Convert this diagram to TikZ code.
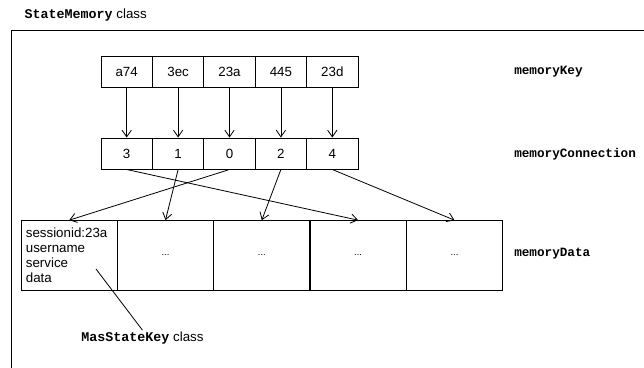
\documentclass[tikz,border=0pt]{standalone}
\usepackage{fontspec}
\setmainfont{Liberation Sans}
\setmonofont{Liberation Mono}
\usetikzlibrary{arrows.meta}

\tikzset{
	keycell/.style={draw, line width=0.7pt, minimum width=38.6pt, minimum height=23.3pt, inner sep=0pt},
	datacell/.style={draw, line width=0.7pt, minimum width=72.2pt, minimum height=52pt, inner sep=0pt},
	fieldname/.style={anchor=west, inner sep=0pt, font=\fontsize{9.5}{11}\selectfont\ttfamily\bfseries},
	link/.style={line width=0.6pt, -{Straight Barb[length=5pt, width=7pt]}}
}

\begin{document}
\begin{tikzpicture}[x=0.75pt, y=-0.75pt, font=\fontsize{10}{11.2}\selectfont]

		\useasboundingbox (0, 0) rectangle (644, 368);

		\draw (20, 15) node[anchor=west] {\texttt{\textbf{StateMemory}} class};
		\draw [line width=0.7pt] (644, 30) -- (11, 30) -- (11, 368);

		% memoryKey row
		\node [keycell] (k0) at (126.7, 71.5) {a74};
		\node [keycell] (k1) at (178.1, 71.5) {3ec};
		\node [keycell] (k2) at (229.5, 71.5) {23a};
		\node [keycell] (k3) at (280.9, 71.5) {445};
		\node [keycell] (k4) at (332.3, 71.5) {23d};
		\node [fieldname] (keylabel) at (514, 72) {memoryKey};

		% memoryConnection row
		\node [keycell] (c0) at (126.7, 153.5) {3};
		\node [keycell] (c1) at (178.1, 153.5) {1};
		\node [keycell] (c2) at (229.5, 153.5) {0};
		\node [keycell] (c3) at (280.9, 153.5) {2};
		\node [keycell] (c4) at (332.3, 153.5) {4};
		\node [fieldname] (connlabel) at (514, 154) {memoryConnection};

		% memoryData row
		\node [datacell, inner xsep=3.5pt, text width=65pt, align=left] (d0) at (69.2, 255.3)
			{sessionid:23a\\username\\service\\data};
		\node [datacell, font=\scriptsize] (d1) at (165.5, 255.3) {...};
		\node [datacell, font=\scriptsize] (d2) at (261.8, 255.3) {...};
		\node [datacell, font=\scriptsize] (d3) at (358.1, 255.3) {...};
		\node [datacell, font=\scriptsize] (d4) at (454.5, 255.3) {...};
		\node [fieldname] (datalabel) at (514, 254) {memoryData};

		\draw [link] (k0) -- (c0);
		\draw [link] (k1) -- (c1);
		\draw [link] (k2) -- (c2);
		\draw [link] (k3) -- (c3);
		\draw [link] (k4) -- (c4);

		\draw [link] (c0.south) -- (d3.north);
		\draw [link] (c1.south) -- (d1.north);
		\draw [link] (c2.south) -- (d0.north);
		\draw [link] (c3.south) -- (d2.north);
		\draw [link] (c4.south) -- (d4.north);

		\coordinate (keypoint) at (96, 269);
		\node [inner sep=1pt] (keyclass) at (142.5, 338) {\texttt{\textbf{MasStateKey}} class};
		\draw [line width=0.6pt] (keypoint) -- (keyclass.north);
	\end{tikzpicture}
\end{document}
